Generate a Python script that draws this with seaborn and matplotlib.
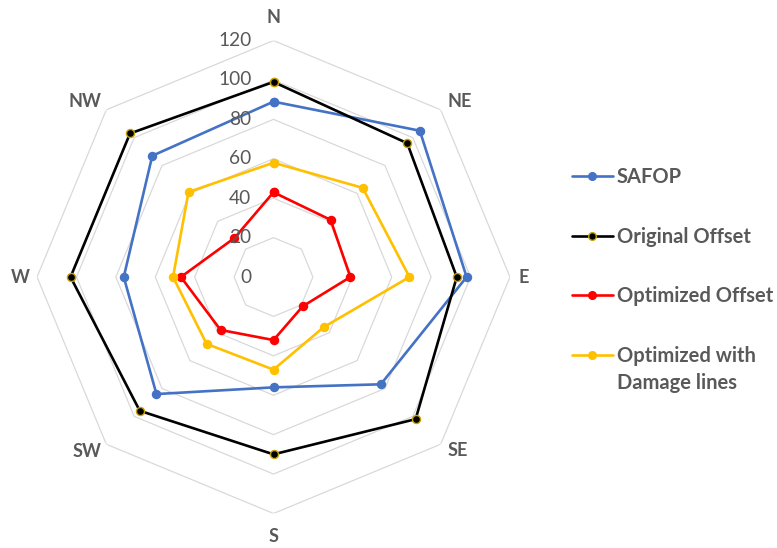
import numpy as np
import pandas as pd
import matplotlib
matplotlib.use('Agg')
import matplotlib.pyplot as plt
from matplotlib.lines import Line2D
import seaborn as sns

# Chart data
directions = ['N', 'NE', 'E', 'SE', 'S', 'SW', 'W', 'NW']
safop = [89, 105, 98, 77, 56, 84, 76, 87]
original_offset = [99, 96, 93, 102, 90, 96, 103, 103]
optimized_offset = [43, 41, 39, 21, 32, 38, 47, 28]
optimized_damage = [58, 64, 69, 36, 47, 48, 51, 61]
series_names = ['SAFOP', 'Original Offset', 'Optimized Offset', 'Optimized with Damage lines']
ring_levels = [0, 20, 40, 60, 80, 100, 120]

sns.set_style('white')
plt.rcParams['font.family'] = ['Lato', 'DejaVu Sans']

GRAY = '#595959'
styles = {
    'SAFOP': dict(color='#4472C4', mec='#4472C4'),
    'Original Offset': dict(color='#000000', mec='#C9A000'),
    'Optimized Offset': dict(color='#FF0000', mec='#FF0000'),
    'Optimized with Damage lines': dict(color='#FFC000', mec='#FFC000'),
}

angles = np.deg2rad(np.arange(len(directions)) * 360 / len(directions))

# long table, loop closed by repeating the first point
rows = []
for name, vals in zip(series_names, [safop, original_offset, optimized_offset, optimized_damage]):
    for i in list(range(len(directions))) + [0]:
        rows.append({'series': name, 'theta': angles[i], 'value': vals[i]})
df = pd.DataFrame(rows)

fig = plt.figure(figsize=(7.77, 5.48), dpi=100)
ax = fig.add_axes([0.0476, 0.063, 0.6088, 0.863], projection='polar')
ax.set_theta_zero_location('N')
ax.set_theta_direction(-1)

# octagon grid rings
closed = np.append(angles, angles[0])
for lev in ring_levels[1:]:
    ax.plot(closed, [lev] * len(closed), color='#D9D9D9', lw=0.9, zorder=1)

handles = []
for name in series_names:
    st = styles[name]
    sub = df[df['series'] == name]
    sns.lineplot(data=sub, x='theta', y='value', ax=ax, sort=False, estimator=None,
                 color=st['color'], lw=1.9, marker='o', markersize=5.8,
                 markeredgecolor=st['mec'], markeredgewidth=1.0, legend=False, zorder=3)
    handles.append(Line2D([0], [0], color=st['color'], lw=1.9, marker='o', markersize=5.5,
                          markeredgecolor=st['mec'], markeredgewidth=1.0))

ax.set_ylim(0, 120)
ax.grid(False)
ax.spines['polar'].set_visible(False)
ax.set_xticks([])
ax.set_yticks([])
ax.set_xlabel('')
ax.set_ylabel('')

# radial value labels along the N axis
for lev in ring_levels:
    ax.annotate(str(lev), xy=(0, lev), xytext=(-22, 0), textcoords='offset pixels',
                ha='right', va='center', fontsize=13.8, color=GRAY)

# direction labels
label_offsets = {'N': (0, 23), 'NE': (19, 8), 'E': (14, 0), 'SE': (17, -6),
                 'S': (0, -23), 'SW': (-19, -7), 'W': (-17, 0), 'NW': (-21, 8)}
for ang, d in zip(angles, directions):
    ax.annotate(d, xy=(ang, 120), xytext=label_offsets[d], textcoords='offset pixels',
                ha='center', va='center', fontsize=13, fontweight='bold', color=GRAY)

# legend; the last label wraps onto a second line like the original
leg_labels = series_names[:3] + ['Optimized with']
leg = fig.legend(handles, leg_labels, loc='center left', bbox_to_anchor=(0.736, 0.5137),
                 frameon=False, borderpad=0, borderaxespad=0, handlelength=2.04,
                 handletextpad=0.2, labelspacing=1.98, prop={'size': 14.5, 'weight': 'bold'})
for t in leg.get_texts():
    t.set_color(GRAY)
fig.canvas.draw()
fig.text(0, 0, 'Damage lines', fontsize=14.5, fontweight='bold', color=GRAY)
last = leg.get_texts()[3]
bb = last.get_window_extent()
fig.texts[-1].set_position((bb.x0 / fig.bbox.width, (bb.y0 + bb.y1) / 2 / fig.bbox.height - 27 / fig.bbox.height))
fig.texts[-1].set_va('center')

fig.savefig('out.png', dpi=100)
